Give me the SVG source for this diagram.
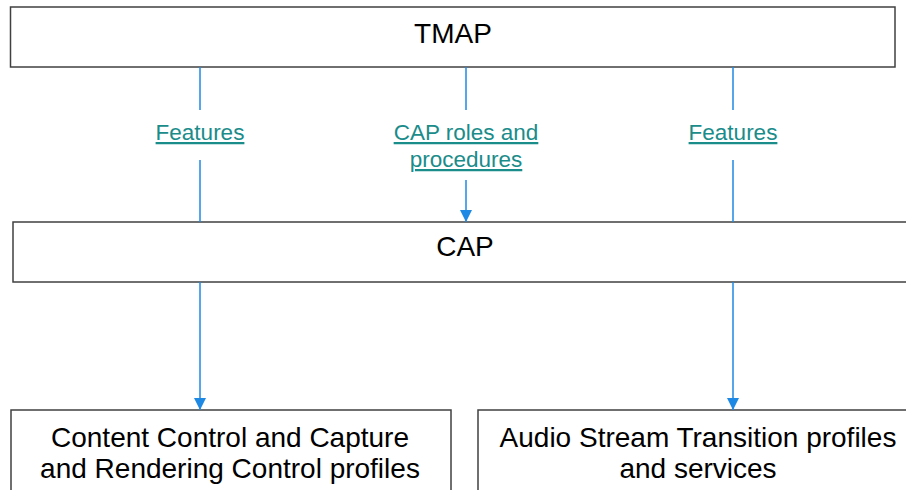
<svg xmlns="http://www.w3.org/2000/svg" width="906" height="490" viewBox="0 0 906 490">
<style>
.box{fill:#fff;stroke:#404040;stroke-width:1.5}
.t{font-family:"Liberation Sans",Arial,sans-serif;font-size:28px;fill:#000;text-anchor:middle}
.lbl{font-family:"Liberation Sans",Arial,sans-serif;font-size:22.5px;fill:#1a8c8a;text-anchor:middle;text-decoration:underline}
.c{stroke:#1e88e5;stroke-width:1.5;fill:none}
</style>
<defs>
<marker id="ah" markerWidth="12" markerHeight="12" viewBox="0 0 12 12" refX="12" refY="6" orient="auto" markerUnits="userSpaceOnUse">
<path d="M0,0 L12,6 L0,12 Z" fill="#1e88e5"/>
</marker>
</defs>
<g id="tmap"><rect class="box" x="10.5" y="7" width="884.5" height="60"/><text class="t" x="453" y="43">TMAP</text></g>
<g id="cap"><rect class="box" x="13" y="222" width="900" height="60"/><text class="t" x="465" y="256">CAP</text></g>
<g id="ccp"><rect class="box" x="11" y="410" width="440" height="90"/><text class="t" x="230" y="447">Content Control and Capture</text><text class="t" x="230" y="478">and Rendering Control profiles</text></g>
<g id="ast"><rect class="box" x="478" y="410" width="440" height="90"/><text class="t" x="698" y="447">Audio Stream Transition profiles</text><text class="t" x="698" y="478">and services</text></g>
<g id="connectors">
<line class="c" x1="200" y1="67" x2="200" y2="110"/>
<line class="c" x1="200" y1="160" x2="200" y2="222"/>
<line class="c" x1="466" y1="67" x2="466" y2="110"/>
<line class="c" x1="466" y1="180" x2="466" y2="222" marker-end="url(#ah)"/>
<line class="c" x1="733" y1="67" x2="733" y2="110"/>
<line class="c" x1="733" y1="160" x2="733" y2="222"/>
<line class="c" x1="200" y1="282" x2="200" y2="410" marker-end="url(#ah)"/>
<line class="c" x1="733" y1="282" x2="733" y2="410" marker-end="url(#ah)"/>
<text class="lbl" x="200" y="140">Features</text>
<text class="lbl" x="466" y="140">CAP roles and</text>
<text class="lbl" x="466" y="167">procedures</text>
<text class="lbl" x="733" y="140">Features</text>
</g>
</svg>
